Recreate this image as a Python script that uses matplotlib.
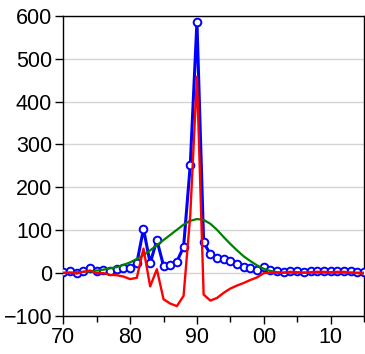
import matplotlib
matplotlib.use("Agg")
import matplotlib.pyplot as plt
from matplotlib.ticker import MultipleLocator, FixedLocator

years = list(range(1970, 2016))
tick_years = [1970, 1980, 1990, 2000, 2010]
tick_labels = ["70", "80", "90", "00", "10"]

actual = [3, 4, 1, 6, 11, 6, 8, 6, 9, 11,
          12, 23, 103, 23, 77, 17, 19, 27, 61, 252,
          586, 72, 44, 36, 33, 29, 22, 15, 13, 8,
          14, 8, 4, 3, 6, 5, 3, 5, 6, 6,
          5, 6, 6, 4, 3, 3]

trend = [1, 1, 2, 3, 4, 6, 8, 11, 14, 19,
         25, 33, 42, 53, 65, 77, 89, 101, 113, 122,
         126, 124, 115, 101, 84, 68, 53, 39, 28, 18,
         10, 5, 2, 1, 1, 1, 1, 1, 1, 1,
         1, 1, 1, 1, 1, 1]

cycle = [0, 1, -1, 3, 6, 0, 0, -4, -5, -8,
         -14, -11, 57, -31, 9, -61, -71, -77, -53, 135,
         458, -50, -64, -58, -46, -36, -29, -23, -16, -10,
         0, 1, 1, 1, 3, 2, 1, 2, 3, 3,
         2, 3, 3, 1, 0, -1]

plt.rcParams['font.family'] = ['Liberation Sans', 'DejaVu Sans']

fig = plt.figure(figsize=(3.65, 3.54), dpi=100)
ax = fig.add_axes([63.3 / 365, (354 - 316) / 354, (364 - 63.3) / 365, (316 - 15.7) / 354])

ax.plot(years, actual, color='#0000ff', lw=2.2, marker='o', ms=5.5,
        mfc='white', mec='#0000ff', mew=1.4, zorder=3, clip_on=True)
ax.plot(years, trend, color='#008000', lw=1.6, zorder=4)
ax.plot(years, cycle, color='#ff0000', lw=1.7, zorder=5)

ax.set_xlim(1970, 2015)
ax.set_ylim(-100, 600)
ax.yaxis.set_major_locator(MultipleLocator(100))
ax.xaxis.set_major_locator(FixedLocator(tick_years))
ax.set_xticklabels(tick_labels)
ax.xaxis.set_minor_locator(MultipleLocator(5))
ax.grid(axis='y', color='#d4d4d4', lw=1.0, zorder=0)
ax.set_axisbelow(True)

ax.tick_params(axis='both', which='major', direction='out', length=6, width=1,
               labelsize=15.5, colors='black', pad=2)
ax.tick_params(axis='x', which='minor', direction='out', length=4, width=1)
ax.tick_params(axis='y', which='minor', left=False)
for s in ax.spines.values():
    s.set_color('black')
    s.set_linewidth(1.0)

fig.savefig("out.png", dpi=100)
